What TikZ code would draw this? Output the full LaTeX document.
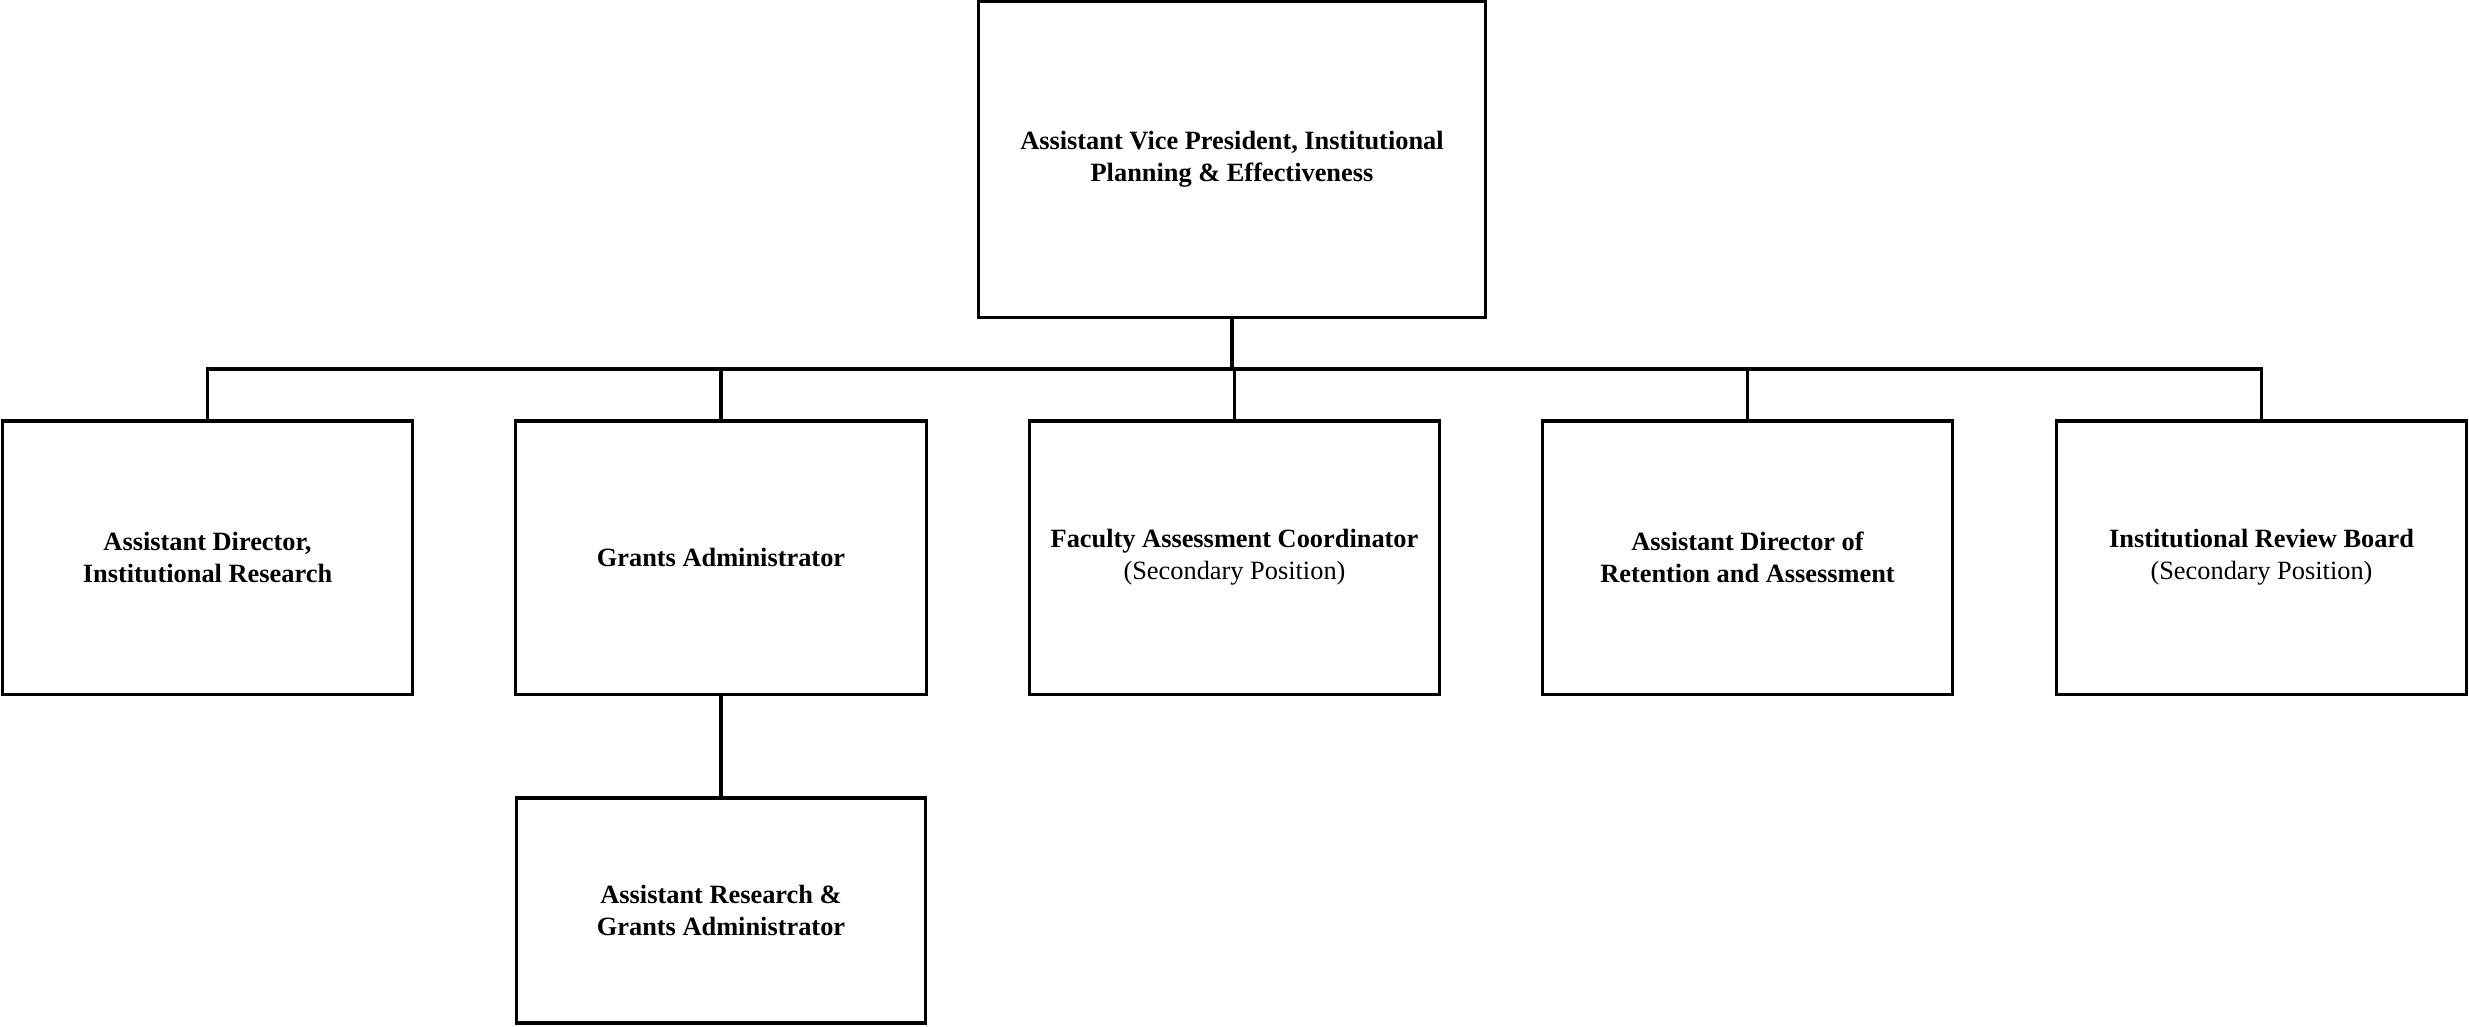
\documentclass[tikz,border=0pt]{standalone}
\usepackage{fontspec}
\setmainfont{Liberation Serif}
\usetikzlibrary{positioning}

\tikzset{
  stelle/.style={draw, line width=0.9pt, rectangle, align=center,
    inner sep=0pt, font=\fontsize{7.5}{9}\selectfont\bfseries,
    minimum width=4.1cm, minimum height=2.73cm},
  linie/.style={line width=0.9pt}
}

\begin{document}
\begin{tikzpicture}[x=0.01cm,y=-0.01cm]

  \useasboundingbox (0,0) rectangle (2469,1027);

  % Leitung
  \node[stelle, minimum width=5.07cm, minimum height=3.15cm] (avp) at (1232,159.5)
    {Assistant Vice President, Institutional\\Planning \& Effectiveness};

  % zweite Ebene
  \node[stelle] (adir)   at (207.5,557.5)  {Assistant Director,\\Institutional Research};
  \node[stelle] (grants) at (721,557.5)    {Grants Administrator};
  \node[stelle] (fac)    at (1234.5,557.5) {Faculty Assessment Coordinator\\\mdseries (Secondary Position)};
  \node[stelle] (ret)    at (1747.5,557.5) {Assistant Director of\\Retention and Assessment};
  \node[stelle] (irb)    at (2261.5,557.5) {Institutional Review Board\\\mdseries (Secondary Position)};

  % dritte Ebene
  \node[stelle, minimum width=4.08cm, minimum height=2.25cm] (asst) at (721,910.5)
    {Assistant Research \&\\Grants Administrator};

  % Sammelleitung
  \coordinate (bus) at (0,369);
  \draw[linie] (avp.south) -- (avp.south |- bus);
  \draw[linie] (adir.north) -- (adir.north |- bus) -- (irb.north |- bus) -- (irb.north);
  \foreach \n in {grants,fac,ret}
    \draw[linie] (\n.north) -- (\n.north |- bus);

  % Grants -> Assistent
  \draw[linie] (grants.south) -- (asst.north);

\end{tikzpicture}
\end{document}
